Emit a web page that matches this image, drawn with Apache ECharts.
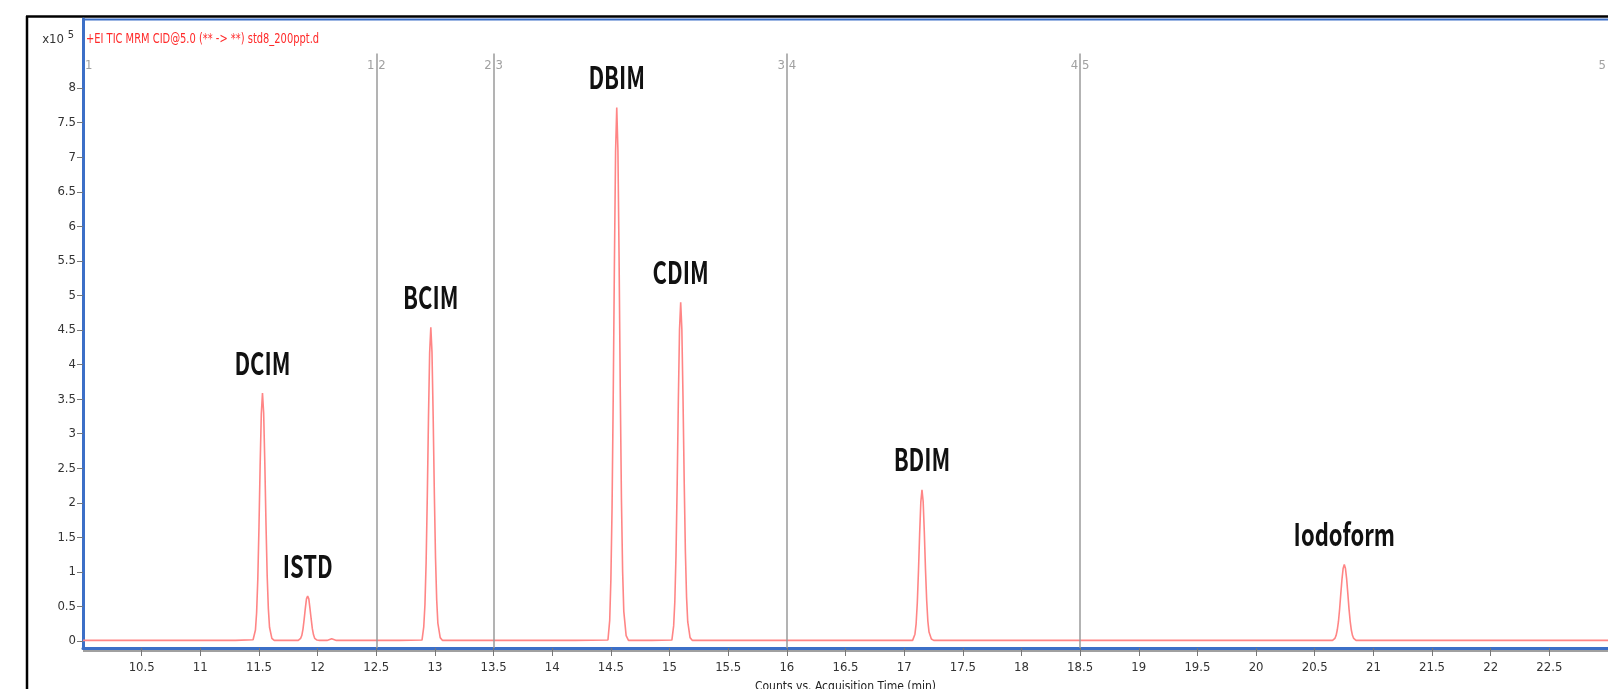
<!DOCTYPE html>
<html lang="en">

<head>
    <meta charset="UTF-8">
    <title>TIC MRM std8_200ppt</title>
    <script src="https://cdn.jsdelivr.net/npm/echarts@6/dist/echarts.min.js"></script>
    <style>
        html, body { margin: 0; padding: 0; background: #fff; }
    </style>
</head>

<body>
    <div id="main" style="width: 1608px; height: 689px;"></div>
    <script>
    // counts are in units of 1e5 (axis reads "x10^5")
    const baseline = [[10.0, 0.01], [11.3, 0.01], [11.7, 0.01], [12.3, 0.01], [12.7, 0.01], [13.5, 0.01],
        [14.2, 0.01], [14.85, 0.01], [15.6, 0.01], [16.8, 0.01], [17.6, 0.01], [20.3, 0.01], [21.2, 0.01], [23.0, 0.01]]

    const dcim = [[11.45, 0.02], [11.47, 0.16], [11.48, 0.41], [11.49, 0.89], [11.50, 1.64], [11.51, 2.54],
        [11.52, 3.29], [11.53, 3.59], [11.54, 3.30], [11.55, 2.57], [11.56, 1.69], [11.57, 0.95],
        [11.58, 0.47], [11.59, 0.20], [11.61, 0.04], [11.63, 0.01]]

    const istd = [[11.835, 0.01], [11.855, 0.04], [11.865, 0.08], [11.875, 0.17], [11.885, 0.31], [11.895, 0.47],
        [11.905, 0.61], [11.915, 0.65], [11.925, 0.61], [11.935, 0.47], [11.945, 0.32], [11.955, 0.18],
        [11.965, 0.09], [11.975, 0.04], [11.995, 0.015], [12.015, 0.01], [12.08, 0.01], [12.12, 0.035], [12.16, 0.01]]

    const bcim = [[12.89, 0.015], [12.905, 0.21], [12.915, 0.53], [12.925, 1.14], [12.935, 2.09], [12.945, 3.22],
        [12.955, 4.17], [12.965, 4.54], [12.975, 4.18], [12.985, 3.25], [12.995, 2.14], [13.005, 1.21],
        [13.015, 0.60], [13.025, 0.26], [13.045, 0.05], [13.065, 0.01]]

    const dbim = [[14.475, 0.015], [14.49, 0.30], [14.50, 0.89], [14.51, 1.93], [14.52, 3.54], [14.53, 5.46],
        [14.54, 7.08], [14.55, 7.72], [14.56, 7.10], [14.57, 5.52], [14.58, 3.63], [14.59, 2.05],
        [14.60, 1.01], [14.61, 0.43], [14.63, 0.08], [14.65, 0.01]]

    const cdim = [[15.02, 0.015], [15.035, 0.22], [15.045, 0.57], [15.055, 1.23], [15.065, 2.25], [15.075, 3.47],
        [15.085, 4.50], [15.095, 4.90], [15.105, 4.51], [15.115, 3.50], [15.125, 2.31], [15.135, 1.30],
        [15.145, 0.64], [15.155, 0.28], [15.175, 0.05], [15.195, 0.01]]

    const bdim = [[17.072, 0.01], [17.092, 0.10], [17.102, 0.25], [17.112, 0.55], [17.122, 1.01], [17.132, 1.55],
        [17.142, 2.01], [17.152, 2.19], [17.162, 2.02], [17.172, 1.57], [17.182, 1.03], [17.192, 0.59],
        [17.202, 0.29], [17.212, 0.13], [17.232, 0.03], [17.252, 0.01]]

    const iodoform = [[20.652, 0.01], [20.672, 0.04], [20.682, 0.08], [20.692, 0.16], [20.702, 0.28], [20.712, 0.46],
        [20.722, 0.68], [20.732, 0.89], [20.742, 1.05], [20.752, 1.11], [20.762, 1.05], [20.772, 0.90],
        [20.782, 0.69], [20.792, 0.47], [20.802, 0.29], [20.812, 0.16], [20.822, 0.08], [20.832, 0.04], [20.852, 0.01]]

    const peakNames = ['DCIM', 'ISTD', 'BCIM', 'DBIM', 'CDIM', 'BDIM', 'Iodoform']
    const peakTimes = [11.53, 11.915, 12.965, 14.55, 15.095, 17.152, 20.752]
    const peakHeights = [3.59, 0.65, 4.54, 7.72, 4.90, 2.19, 1.11]

    const segmentTimes = [10.0, 12.5, 13.5, 16.0, 18.5, 23.0]
    const segmentLabels = ['1', '1 2', '2 3', '3 4', '4 5', '5']

    const xTicks = [10.5, 11, 11.5, 12, 12.5, 13, 13.5, 14, 14.5, 15, 15.5, 16, 16.5, 17, 17.5,
        18, 18.5, 19, 19.5, 20, 20.5, 21, 21.5, 22, 22.5]
    const yTicks = [0, 0.5, 1, 1.5, 2, 2.5, 3, 3.5, 4, 4.5, 5, 5.5, 6, 6.5, 7, 7.5, 8]

    const trace = baseline.concat(dcim, istd, bcim, dbim, cdim, bdim, iodoform)
        .sort(function (a, b) { return a[0] - b[0] })

    const axisBlue = '#3c6fc7'
    const narrow = '"DejaVu Sans Condensed", "Liberation Sans", sans-serif'

    const myChart = echarts.init(document.getElementById('main'), null, { renderer: 'canvas' })
    const option = {
        backgroundColor: '#ffffff',
        animation: false,
        grid: { left: 83, right: 0, top: 19, bottom: 41, containLabel: false, outerBoundsMode: 'none' },
        xAxis: {
            type: 'value',
            min: 10,
            max: 23,
            name: 'Counts vs. Acquisition Time (min)',
            nameLocation: 'middle',
            nameGap: 33,
            nameTextStyle: { color: '#222', fontSize: 12, fontFamily: narrow },
            axisLine: { onZero: false, lineStyle: { color: axisBlue, width: 3 } },
            axisTick: { customValues: xTicks, length: 8, lineStyle: { color: '#777' } },
            axisLabel: { customValues: xTicks, color: '#333', fontSize: 13, fontFamily: narrow, margin: 13 },
            splitLine: { show: false }
        },
        yAxis: {
            type: 'value',
            min: -0.1,
            max: 9,
            axisLine: { show: true, onZero: false, lineStyle: { color: axisBlue, width: 3 } },
            axisTick: { show: true, customValues: yTicks, length: 6, lineStyle: { color: '#777' } },
            axisLabel: { customValues: yTicks, color: '#333', fontSize: 13, fontFamily: narrow, margin: 7 },
            splitLine: { show: false }
        },
        graphic: [
            { type: 'line', shape: { x1: 27, y1: 16, x2: 27, y2: 689 }, style: { stroke: '#000', lineWidth: 2.5 } },
            { type: 'line', shape: { x1: 26, y1: 16.5, x2: 1608, y2: 16.5 }, style: { stroke: '#000', lineWidth: 2.5 } },
            { type: 'line', shape: { x1: 82, y1: 19.5, x2: 1608, y2: 19.5 }, style: { stroke: axisBlue, lineWidth: 2 } },
            { type: 'line', shape: { x1: 83, y1: 651, x2: 1608, y2: 651 }, style: { stroke: '#a0a0a0', lineWidth: 2 } },
            { type: 'text', x: 64, y: 40, style: { text: 'x10', font: '13px ' + narrow, fill: '#333', align: 'right', verticalAlign: 'middle' } },
            { type: 'text', x: 71, y: 35, style: { text: '5', font: '11px ' + narrow, fill: '#333', align: 'center', verticalAlign: 'middle' } },
            { type: 'text', x: 86, y: 40, scaleY: 1.2, style: { text: '+EI TIC MRM CID@5.0 (** -> **) std8_200ppt.d', font: '11px ' + narrow, fill: '#ff2a2a', align: 'left', verticalAlign: 'middle' } }
        ],
        series: [
            {
                name: 'TIC',
                type: 'line',
                data: trace,
                showSymbol: false,
                symbol: 'none',
                smooth: false,
                lineStyle: { color: '#ff8585', width: 1.6 },
                z: 3
            },
            {
                name: 'segments',
                type: 'scatter',
                symbolSize: 0,
                silent: true,
                data: segmentTimes.map(function (t, i) {
                    let align = 'center'
                    let dx = 0
                    if (i === 0) { align = 'left'; dx = 2 }
                    if (i === segmentTimes.length - 1) { align = 'right'; dx = -2 }
                    return {
                        value: [t, 8.32],
                        label: { show: true, formatter: segmentLabels[i], align: align, offset: [dx, 0] }
                    }
                }),
                label: { position: 'inside', color: '#888', fontSize: 13, fontFamily: narrow },
                markLine: {
                    silent: true,
                    symbol: 'none',
                    label: { show: false },
                    lineStyle: { color: '#9a9a9a', width: 1.5, type: 'solid' },
                    data: segmentTimes.slice(1, -1).map(function (t) {
                        return [{ coord: [t, -0.1] }, { coord: [t, 8.5] }]
                    })
                },
                z: 2
            },
            {
                name: 'peaks',
                type: 'custom',
                silent: true,
                data: peakTimes.map(function (t, i) { return [t, peakHeights[i]] }),
                renderItem: function (params, api) {
                    const p = api.coord([api.value(0), api.value(1)])
                    return {
                        type: 'text',
                        x: p[0],
                        y: p[1] - 30,
                        scaleY: 1.4,
                        style: {
                            text: peakNames[params.dataIndex],
                            font: 'bold 22px "Noto Sans CJK KR", "Liberation Sans", sans-serif',
                            fill: '#111',
                            align: 'center',
                            verticalAlign: 'middle'
                        }
                    }
                },
                z: 4
            }
        ]
    }
    myChart.setOption(option)
    </script>
</body>

</html>
